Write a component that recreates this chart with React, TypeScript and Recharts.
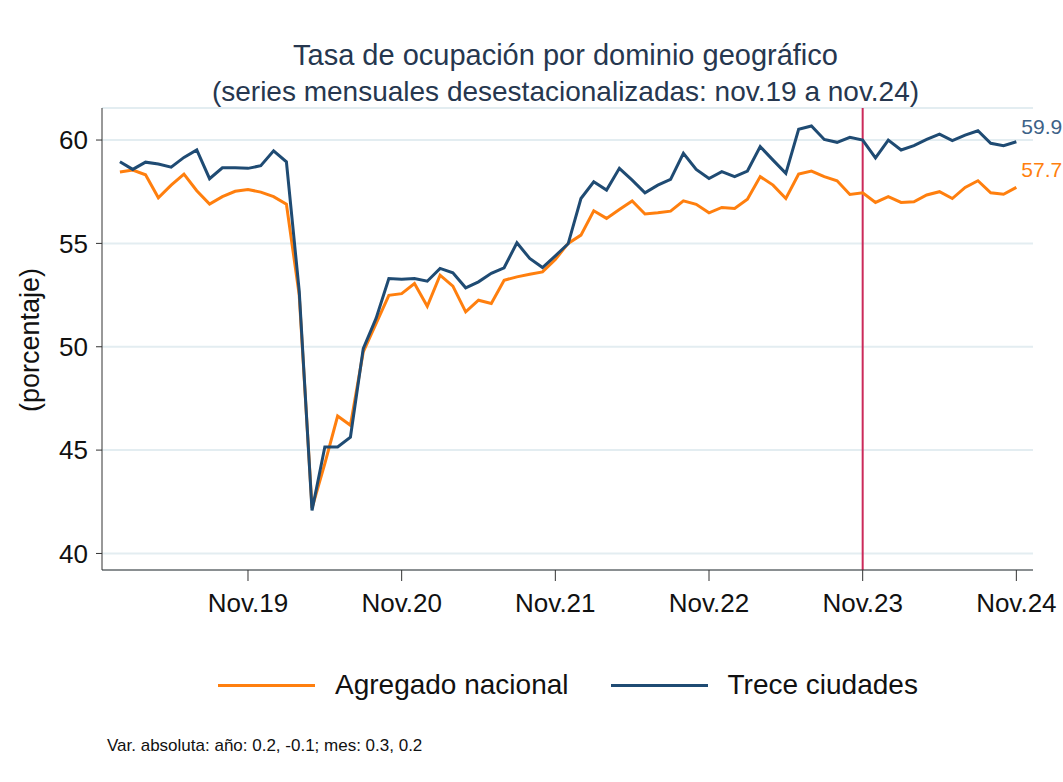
import React from "react";
import {
  LineChart,
  Line,
  XAxis,
  YAxis,
  CartesianGrid,
  ReferenceLine,
} from "recharts";

// monthly values, ene.19 .. nov.24 (index 0..70)
const nacional = [
  58.45, 58.55, 58.32, 57.21, 57.82, 58.35, 57.55, 56.9, 57.26, 57.52,
  57.61, 57.48, 57.26, 56.9, 52.5, 42.2, 44.35, 46.65, 46.2, 49.75,
  51.12, 52.49, 52.57, 53.06, 51.96, 53.46, 52.93, 51.69, 52.25, 52.09,
  53.22, 53.38, 53.51, 53.62, 54.22, 55.0, 55.4, 56.58, 56.21, 56.64,
  57.05, 56.42, 56.48, 56.56, 57.06, 56.89, 56.48, 56.74, 56.69, 57.14,
  58.23, 57.82, 57.17, 58.35, 58.5, 58.23, 58.03, 57.37, 57.45, 56.98,
  57.26, 56.98, 57.01, 57.34, 57.5, 57.17, 57.71, 58.03, 57.45, 57.38,
  57.71,
];

const trece = [
  58.95, 58.58, 58.93, 58.84, 58.69, 59.16, 59.52, 58.13, 58.66, 58.66,
  58.63, 58.76, 59.48, 58.95, 52.7, 42.08, 45.15, 45.15, 45.63, 49.91,
  51.37, 53.3, 53.27, 53.3, 53.17, 53.79, 53.58, 52.85, 53.14, 53.55,
  53.82, 55.03, 54.27, 53.83, 54.4, 54.98, 57.17, 57.98, 57.58, 58.63,
  58.06, 57.45, 57.82, 58.1, 59.36, 58.58, 58.14, 58.47, 58.23, 58.5,
  59.68, 59.03, 58.39, 60.52, 60.68, 60.03, 59.89, 60.13, 60.0, 59.14,
  60.0, 59.52, 59.73, 60.03, 60.29, 59.97, 60.24, 60.45, 59.84, 59.73,
  59.92,
];

const tickIdx = [10, 22, 34, 46, 58, 70];
const tickLabels = ["Nov.19", "Nov.20", "Nov.21", "Nov.22", "Nov.23", "Nov.24"];
const yTicks = [40, 45, 50, 55, 60];
const seriesNames = ["Agregado nacional", "Trece ciudades"];
const markIdx = 58;

const ORANGE = "#ff7f0e";
const NAVY = "#1f4b73";
const FONT = "'Liberation Sans', Arial, sans-serif";

const data = nacional.map((v, i) => ({ i, nac: v, tre: trece[i] }));
const last = data.length - 1;

const endLabel = (color: string, dy: number) => (props: any) => {
  if (props.index !== last) return null;
  return (
    <text
      x={props.x + 5}
      y={props.y + dy}
      fill={color}
      fontSize={21}
      fontFamily={FONT}
    >
      {Number(props.value).toFixed(1)}
    </text>
  );
};

export default function App() {
  return (
    <div
      style={{
        position: "fixed",
        left: 0,
        top: 0,
        width: 1063,
        height: 782,
        background: "#fff",
        fontFamily: FONT,
      }}
    >
      <div
        style={{
          position: "absolute",
          top: 37,
          left: 0,
          width: 1131,
          textAlign: "center",
          color: "#26374f",
          fontSize: 28,
          lineHeight: "36px",
        }}
      >
        <span style={{ fontSize: 29 }}>
          Tasa de ocupación por dominio geográfico
        </span>
        <br />
        (series mensuales desestacionalizadas: nov.19 a nov.24)
      </div>

      <div
        style={{
          position: "absolute",
          left: 30,
          top: 340,
          transform: "translate(-50%, -50%) rotate(-90deg)",
          fontSize: 27,
          color: "#111",
          whiteSpace: "nowrap",
        }}
      >
        (porcentaje)
      </div>

      <LineChart
        width={1063}
        height={782}
        data={data}
        margin={{ top: 108, right: 30, bottom: 162, left: 40 }}
        style={{ position: "absolute", left: 0, top: 0 }}
      >
        <CartesianGrid
          vertical={false}
          stroke="#e3edf1"
          strokeWidth={2}
        />
        <XAxis
          dataKey="i"
          type="number"
          domain={[-1.4, 71.3]}
          ticks={tickIdx}
          tickFormatter={(v: number) => tickLabels[tickIdx.indexOf(v)]}
          height={50}
          tickSize={11}
          tickMargin={13}
          stroke="#333"
          tick={{ fontSize: 26, fill: "#111", fontFamily: FONT }}
        />
        <YAxis
          type="number"
          domain={[39.2, 61.55]}
          ticks={yTicks}
          width={62}
          tickSize={6}
          tickMargin={8}
          stroke="#333"
          tick={{ fontSize: 26, fill: "#111", fontFamily: FONT }}
        />
        <ReferenceLine x={markIdx} stroke="#cc2a5a" strokeWidth={2} />
        <Line
          dataKey="nac"
          name={seriesNames[0]}
          stroke={ORANGE}
          strokeWidth={3}
          dot={false}
          isAnimationActive={false}
          label={endLabel(ORANGE, -10)}
        />
        <Line
          dataKey="tre"
          name={seriesNames[1]}
          stroke={NAVY}
          strokeWidth={3}
          dot={false}
          isAnimationActive={false}
          label={endLabel("#3d6287", -8)}
        />
      </LineChart>

      <div
        style={{
          position: "absolute",
          top: 669,
          left: 218,
          display: "flex",
          alignItems: "center",
          fontSize: 28,
          color: "#111",
        }}
      >
        <span
          style={{ width: 97, height: 3, background: ORANGE, marginRight: 20 }}
        />
        <span>{seriesNames[0]}</span>
        <span
          style={{
            width: 97,
            height: 3,
            background: NAVY,
            marginLeft: 42,
            marginRight: 20,
          }}
        />
        <span>{seriesNames[1]}</span>
      </div>

      <div
        style={{
          position: "absolute",
          top: 736,
          left: 107,
          fontSize: 17,
          color: "#111",
        }}
      >
        Var. absoluta: año: 0.2, -0.1; mes: 0.3, 0.2
      </div>
    </div>
  );
}
